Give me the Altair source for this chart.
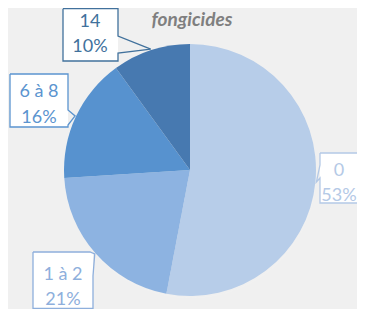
import math
import altair as alt
import pandas as pd

# ---- data ----
categories = ["0", "1 à 2", "6 à 8", "14"]
values = [53, 21, 16, 10]
pct_labels = ["53%", "21%", "16%", "10%"]
title_text = "fongicides"

# ---- style ----
slice_colors = ["#B7CDE9", "#8DB3E1", "#5792CF", "#4779B0"]
text_colors = ["#B4C9E6", "#8EAFDC", "#5B94CF", "#41719C"]
FONT = "Lato"

# ---- layout (pixels, svg coords) ----
W, H = 349, 301
CX, CY, R = 182, 162, 126
# callout boxes: x0, x1, y0, y1
boxes = {
    "0": (312, 362, 145, 195),
    "1 à 2": (25, 85, 244, 300.5),
    "6 à 8": (2, 60, 66, 119),
    "14": (55, 110, 0.7, 53),
}
# text centres: x, first line y, second line y
text_pos = {
    "0": (331, 163, 188),
    "1 à 2": (55, 267, 292),
    "6 à 8": (31, 83.5, 109.5),
    "14": (82, 14, 39),
}
# pointer attachment: kind and base positions
pointers = {
    "0": ("left", 157, 170),
    "1 à 2": ("corner", 82, 268),
    "6 à 8": ("right", 102, 117),
    "14": ("right", 28, 45),
}

total = sum(values)
cum = 0.0
tips = {}
for c, v in zip(categories, values):
    mid = (cum + v / 2) / total * 2 * math.pi
    cum += v
    tips[c] = (CX + (R + 1) * math.sin(mid), CY - (R + 1) * math.cos(mid))

# outline polylines
rows = []
for i, c in enumerate(categories):
    x0, x1, y0, y1 = boxes[c]
    kind, a, b = pointers[c]
    tx, ty = tips[c]
    if kind == "right":
        pts = [(x0, y0), (x1, y0), (x1, a), (tx, ty), (x1, b), (x1, y1), (x0, y1), (x0, y0)]
    elif kind == "left":
        pts = [(x0, y0), (x1, y0), (x1, y1), (x0, y1), (x0, b), (tx, ty), (x0, a), (x0, y0)]
    else:
        pts = [(x0, y0), (a, y0), (tx, ty), (x1, b), (x1, y1), (x0, y1), (x0, y0)]
    for k, (px, py) in enumerate(pts):
        rows.append({"cat": c, "ord": k, "px": px, "py": py, "col": text_colors[i]})
outline_df = pd.DataFrame(rows)

box_df = pd.DataFrame([
    {"cat": c, "x0": boxes[c][0], "x1": boxes[c][1], "y0": boxes[c][2], "y1": boxes[c][3]}
    for c in categories
])

text_rows = []
for i, c in enumerate(categories):
    xc, ya, yb = text_pos[c]
    text_rows.append({"t": c, "x": xc, "y": ya, "col": text_colors[i]})
    text_rows.append({"t": pct_labels[i], "x": xc, "y": yb, "col": text_colors[i]})
text_df = pd.DataFrame(text_rows)

pie_df = pd.DataFrame({"cat": categories, "value": values, "idx": list(range(len(values)))})

shadow_df = pd.DataFrame({"r": [R - 1, R, R + 1, R + 2, R + 3]})

shadow = alt.Chart(shadow_df).mark_arc(color="#000000", opacity=0.06).encode(
    x=alt.value(CX + 1), y=alt.value(CY + 3),
    theta=alt.value(0), theta2=alt.value(6.2832),
    radius=alt.Radius("r:Q", scale=None),
)

pie = alt.Chart(pie_df).mark_arc(radius=R).encode(
    x=alt.value(CX), y=alt.value(CY),
    theta=alt.Theta("value:Q", stack=True),
    order=alt.Order("idx:Q"),
    fill=alt.Fill("cat:N", scale=alt.Scale(domain=categories, range=slice_colors), legend=None),
)

box_fill = alt.Chart(box_df).mark_rect(fill="white").encode(
    x=alt.X("x0:Q", scale=None), x2="x1:Q",
    y=alt.Y("y0:Q", scale=None), y2="y1:Q",
)

outline = alt.Chart(outline_df).mark_line(strokeWidth=1.3).encode(
    x=alt.X("px:Q", scale=None), y=alt.Y("py:Q", scale=None),
    order=alt.Order("ord:Q"), detail="cat:N",
    stroke=alt.Stroke("col:N", scale=None),
)

labels = alt.Chart(text_df).mark_text(font=FONT, fontSize=18, baseline="middle", align="center").encode(
    x=alt.X("x:Q", scale=None), y=alt.Y("y:Q", scale=None),
    text="t:N", color=alt.Color("col:N", scale=None),
)

title = alt.Chart(pd.DataFrame({"t": [title_text]})).mark_text(
    font=FONT, fontSize=19, fontWeight="bold", fontStyle="italic",
    color="#7F7F7F", align="center", baseline="alphabetic",
).encode(x=alt.value(184), y=alt.value(18), text="t:N")

chart = alt.layer(shadow, pie, box_fill, outline, labels, title).properties(
    width=W, height=H, autosize=alt.AutoSizeParams(type="none"), padding=0,
).configure_view(stroke=None)

chart.save("out.html", embed_options={"renderer": "svg", "actions": False})
